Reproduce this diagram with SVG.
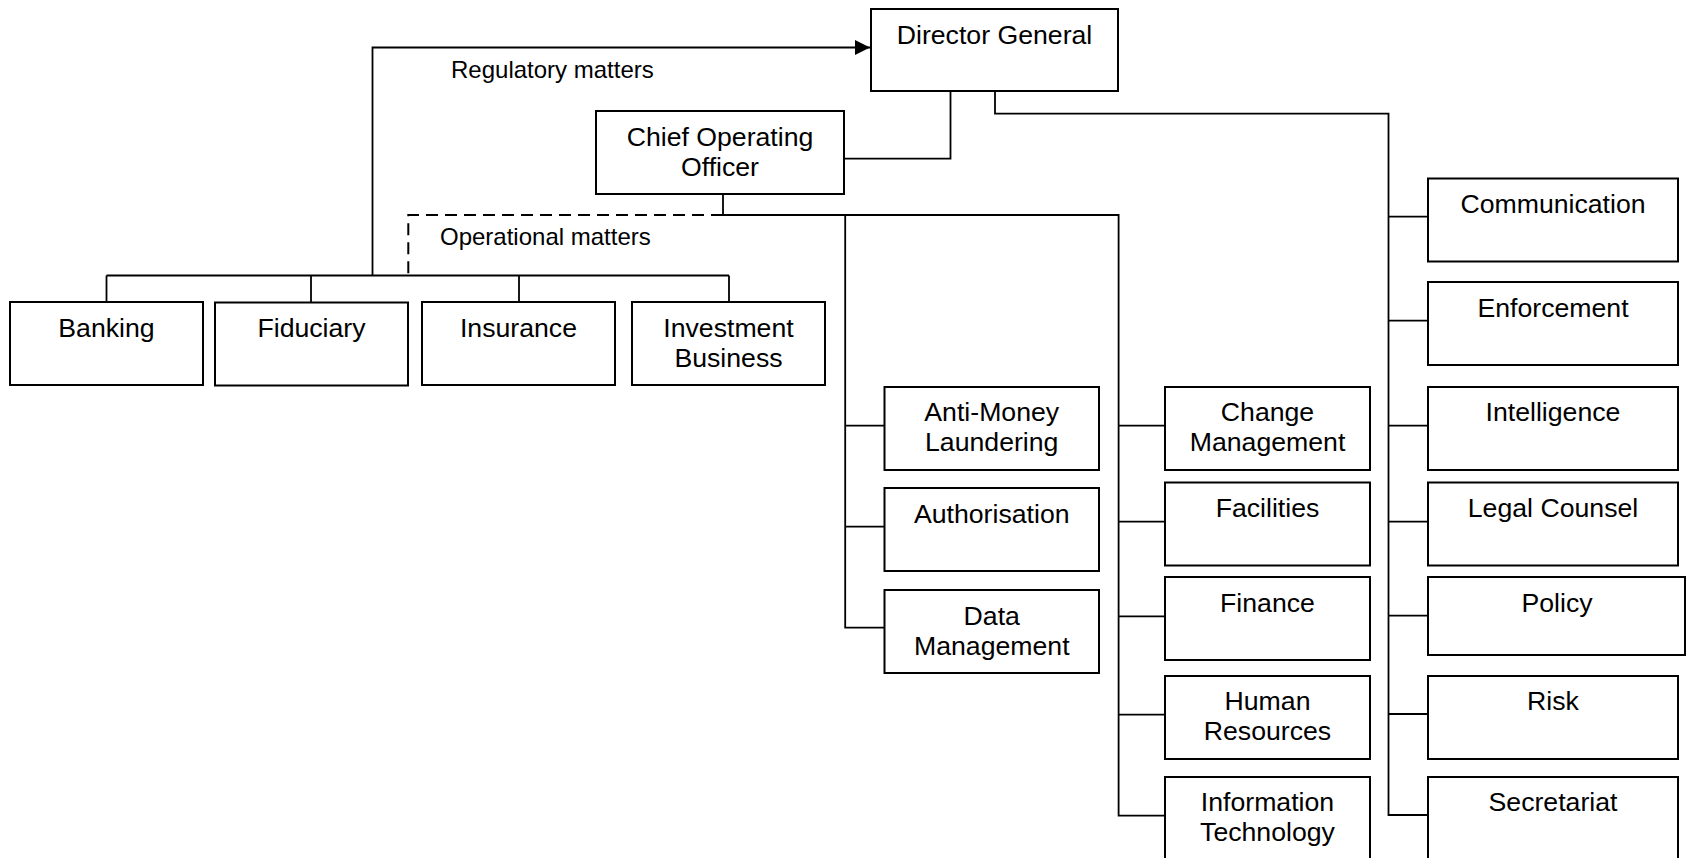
<svg xmlns="http://www.w3.org/2000/svg" width="1686" height="858" viewBox="0 0 1686 858">
  <style>
    .box { fill: #ffffff; stroke: #000000; stroke-width: 2; }
    .lbl { font-family: "Liberation Sans", Arial, sans-serif; font-size: 26.67px; fill: #000000; text-anchor: middle; }
    .note { font-family: "Liberation Sans", Arial, sans-serif; font-size: 24px; fill: #000000; }
    .wire { fill: none; stroke: #000000; stroke-width: 1.8; }
    .dash { fill: none; stroke: #000000; stroke-width: 2; stroke-dasharray: 12 7; }
  </style>
  <defs>
    <marker id="arrow" markerUnits="userSpaceOnUse" markerWidth="16" markerHeight="16" refX="15" refY="7.5" orient="auto">
      <path d="M0,0 L15,7.5 L0,15 Z" fill="#000000"/>
    </marker>
  </defs>
  <rect width="1686" height="858" fill="#ffffff"/>

  <!-- reporting lines -->
  <g id="connectors">
    <!-- Director General to Chief Operating Officer -->
    <polyline class="wire" points="950.5,91 950.5,158.7 844,158.7"/>
    <!-- Director General to the right-hand column -->
    <polyline class="wire" points="995,91 995,113.7 1388.5,113.7 1388.5,815 1428,815"/>
    <line class="wire" x1="1388.5" y1="216.7" x2="1428" y2="216.7"/>
    <line class="wire" x1="1388.5" y1="320.7" x2="1428" y2="320.7"/>
    <line class="wire" x1="1388.5" y1="425.7" x2="1428" y2="425.7"/>
    <line class="wire" x1="1388.5" y1="521.7" x2="1428" y2="521.7"/>
    <line class="wire" x1="1388.5" y1="615.7" x2="1428" y2="615.7"/>
    <line class="wire" x1="1388.5" y1="714" x2="1428" y2="714"/>
    <!-- Chief Operating Officer to its two columns -->
    <polyline class="wire" points="723,194 723,215 1118.6,215 1118.6,815.7 1165,815.7"/>
    <line class="wire" x1="1118.6" y1="425.7" x2="1165" y2="425.7"/>
    <line class="wire" x1="1118.6" y1="521.7" x2="1165" y2="521.7"/>
    <line class="wire" x1="1118.6" y1="616.3" x2="1165" y2="616.3"/>
    <line class="wire" x1="1118.6" y1="714.7" x2="1165" y2="714.7"/>
    <polyline class="wire" points="845.2,215 845.2,627.7 884.5,627.7"/>
    <line class="wire" x1="845.2" y1="425.7" x2="884.5" y2="425.7"/>
    <line class="wire" x1="845.2" y1="526.7" x2="884.5" y2="526.7"/>
    <!-- operational line (dashed) -->
    <polyline class="dash" points="723,215 408.3,215 408.3,275.5"/>
    <!-- supervisory divisions bus -->
    <line class="wire" x1="106.5" y1="275.5" x2="729" y2="275.5"/>
    <line class="wire" x1="106.5" y1="275.5" x2="106.5" y2="302"/>
    <line class="wire" x1="311" y1="275.5" x2="311" y2="302.5"/>
    <line class="wire" x1="519" y1="275.5" x2="519" y2="302"/>
    <line class="wire" x1="729" y1="275.5" x2="729" y2="302"/>
    <!-- regulatory line -->
    <polyline class="wire" points="372.5,275.5 372.5,47.5 870,47.5" marker-end="url(#arrow)"/>
    <text class="note" x="451" y="77.5">Regulatory matters</text>
    <text class="note" x="440" y="244.5">Operational matters</text>
  </g>

  <g id="director-general">
    <rect class="box" x="871" y="9" width="247" height="82"/>
    <text class="lbl" x="994.5" y="43.5">Director General</text>
  </g>
  <g id="chief-operating-officer">
    <rect class="box" x="596" y="111" width="248" height="83"/>
    <text class="lbl" x="720" y="145.5">Chief Operating</text>
    <text class="lbl" x="720" y="176">Officer</text>
  </g>

  <g id="banking">
    <rect class="box" x="10" y="302" width="193" height="83"/>
    <text class="lbl" x="106.5" y="336.5">Banking</text>
  </g>
  <g id="fiduciary">
    <rect class="box" x="215" y="302.5" width="193" height="83"/>
    <text class="lbl" x="311.5" y="337">Fiduciary</text>
  </g>
  <g id="insurance">
    <rect class="box" x="422" y="302" width="193" height="83"/>
    <text class="lbl" x="518.5" y="336.5">Insurance</text>
  </g>
  <g id="investment-business">
    <rect class="box" x="632" y="302" width="193" height="83"/>
    <text class="lbl" x="728.5" y="336.5">Investment</text>
    <text class="lbl" x="728.5" y="367">Business</text>
  </g>

  <g id="anti-money-laundering">
    <rect class="box" x="884.5" y="387" width="214.5" height="83"/>
    <text class="lbl" x="991.75" y="421">Anti-Money</text>
    <text class="lbl" x="991.75" y="451">Laundering</text>
  </g>
  <g id="authorisation">
    <rect class="box" x="884.5" y="488" width="214.5" height="83"/>
    <text class="lbl" x="991.75" y="522.5">Authorisation</text>
  </g>
  <g id="data-management">
    <rect class="box" x="884.5" y="590" width="214.5" height="83"/>
    <text class="lbl" x="991.75" y="624.5">Data</text>
    <text class="lbl" x="991.75" y="655">Management</text>
  </g>

  <g id="change-management">
    <rect class="box" x="1165" y="387" width="205" height="83"/>
    <text class="lbl" x="1267.5" y="421">Change</text>
    <text class="lbl" x="1267.5" y="451">Management</text>
  </g>
  <g id="facilities">
    <rect class="box" x="1165" y="482.5" width="205" height="83"/>
    <text class="lbl" x="1267.5" y="517">Facilities</text>
  </g>
  <g id="finance">
    <rect class="box" x="1165" y="577" width="205" height="83"/>
    <text class="lbl" x="1267.5" y="611.5">Finance</text>
  </g>
  <g id="human-resources">
    <rect class="box" x="1165" y="676" width="205" height="83"/>
    <text class="lbl" x="1267.5" y="710">Human</text>
    <text class="lbl" x="1267.5" y="740">Resources</text>
  </g>
  <g id="information-technology">
    <rect class="box" x="1165" y="777" width="205" height="83"/>
    <text class="lbl" x="1267.5" y="811">Information</text>
    <text class="lbl" x="1267.5" y="841">Technology</text>
  </g>

  <g id="communication">
    <rect class="box" x="1428" y="178.5" width="250" height="83"/>
    <text class="lbl" x="1553" y="212.5">Communication</text>
  </g>
  <g id="enforcement">
    <rect class="box" x="1428" y="282" width="250" height="83"/>
    <text class="lbl" x="1553" y="316.5">Enforcement</text>
  </g>
  <g id="intelligence">
    <rect class="box" x="1428" y="387" width="250" height="83"/>
    <text class="lbl" x="1553" y="421">Intelligence</text>
  </g>
  <g id="legal-counsel">
    <rect class="box" x="1428" y="482.5" width="250" height="83"/>
    <text class="lbl" x="1553" y="517">Legal Counsel</text>
  </g>
  <g id="policy">
    <rect class="box" x="1428" y="577" width="257" height="78"/>
    <text class="lbl" x="1557" y="611.5">Policy</text>
  </g>
  <g id="risk">
    <rect class="box" x="1428" y="676" width="250" height="83"/>
    <text class="lbl" x="1553" y="710">Risk</text>
  </g>
  <g id="secretariat">
    <rect class="box" x="1428" y="777" width="250" height="83"/>
    <text class="lbl" x="1553" y="811">Secretariat</text>
  </g>
</svg>
